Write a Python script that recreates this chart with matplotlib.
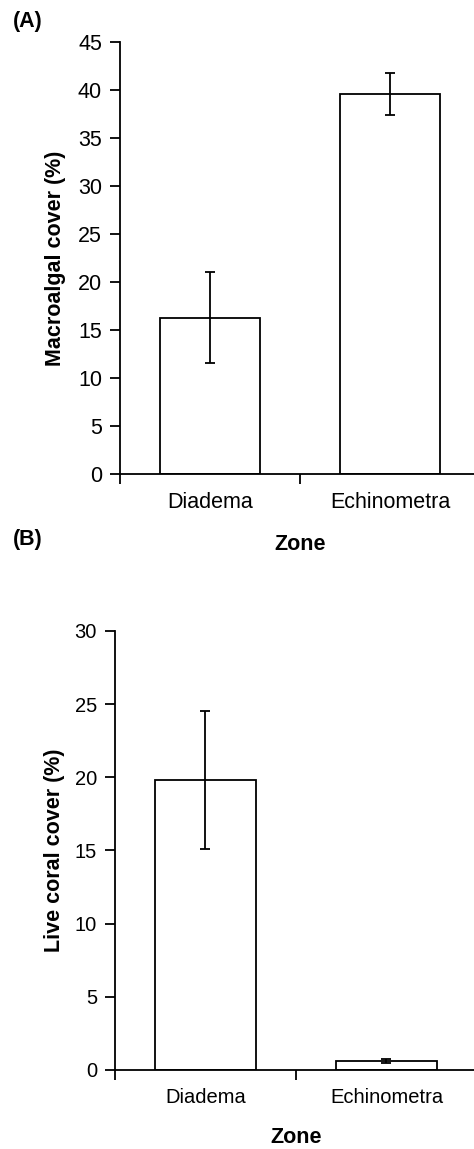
import numpy as np
import matplotlib
matplotlib.use("Agg")
import matplotlib.pyplot as plt

################################
#### data
################################

zones = ["Diadema", "Echinometra"]

macro_mean = [16.3, 39.6]   # macroalgal cover (%)
macro_err = [4.7, 2.2]

coral_mean = [19.8, 0.63]   # live coral cover (%)
coral_err = [4.7, 0.13]

plt.rcParams['font.family'] = ['Liberation Sans', 'DejaVu Sans']

fig = plt.figure(figsize=(4.74, 11.49), dpi=100)

# axes boxes in figure fraction (the x axis runs a little past the right edge)
axA = fig.add_axes([0.2532, 0.5875, 0.7595, 0.3759])
axB = fig.add_axes([0.2426, 0.0688, 0.7637, 0.3821])


def draw_panel(ax, means, errs, ymax, step, ylabel, ticksize, ylab_x, xlab_y):
    x = np.arange(len(zones))
    ax.bar(x, means, width=0.56, color='white', edgecolor='black', linewidth=1.3, zorder=2)
    ax.errorbar(x, means, yerr=errs, fmt='none', ecolor='black', elinewidth=1.3,
                capsize=3.8, capthick=1.3, zorder=3)
    ax.set_xlim(-0.5, 1.5)
    ax.set_ylim(0, ymax)
    ax.set_yticks(np.arange(0, ymax + 0.1, step))
    # category boundaries get the tick marks, names sit in between
    ax.set_xticks([-0.5, 0.5, 1.5])
    ax.set_xticklabels([])
    ax.set_xticks(x, minor=True)
    ax.set_xticklabels(zones, minor=True, fontsize=ticksize)
    ax.tick_params(axis='x', which='minor', length=0, pad=13)
    ax.tick_params(axis='x', which='major', direction='out', length=7, width=1.3)
    ax.tick_params(axis='y', direction='out', length=7, width=1.3, labelsize=ticksize, pad=6)
    for s in ['top', 'right']:
        ax.spines[s].set_visible(False)
    for s in ['left', 'bottom']:
        ax.spines[s].set_linewidth(1.3)
    ax.set_ylabel(ylabel, fontsize=15.5, fontweight='bold', va='center')
    ax.yaxis.set_label_coords(ylab_x, 0.5)
    ax.set_xlabel("Zone", fontsize=15.5, fontweight='bold', va='center')
    ax.xaxis.set_label_coords(0.5, xlab_y)


draw_panel(axA, macro_mean, macro_err, 45, 5, "Macroalgal cover (%)", 15.5, -0.18, -0.164)
draw_panel(axB, coral_mean, coral_err, 30, 5, "Live coral cover (%)", 14.5, -0.168, -0.154)

fig.text(13 / 474, 1 - 21 / 1149, "(A)", fontsize=15.5, fontweight='bold', ha='left', va='center')
fig.text(13 / 474, 1 - 540 / 1149, "(B)", fontsize=15.5, fontweight='bold', ha='left', va='center')

fig.savefig("out.png", dpi=100)
